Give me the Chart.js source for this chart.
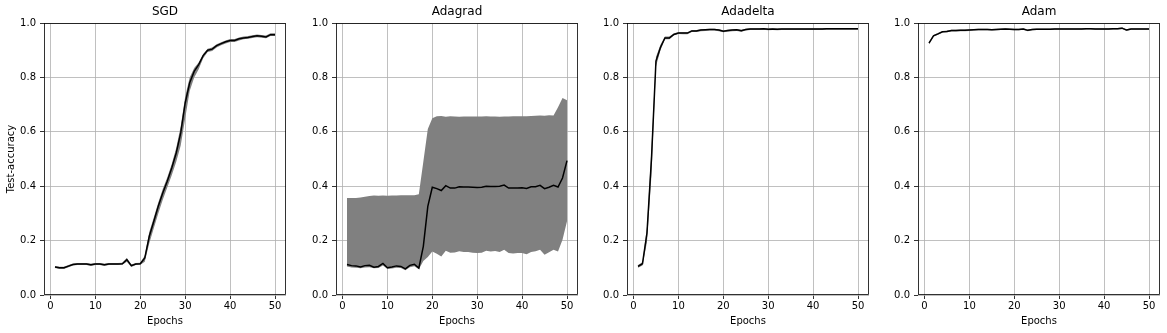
<!DOCTYPE html>
<html>
<head>
<meta charset="utf-8">
<script src="https://cdn.jsdelivr.net/npm/chart.js@4.4.1/dist/chart.umd.min.js"></script>
<style>
  body { margin: 0; background: #fff; }
  #wrap { position: relative; width: 1167px; height: 333px; background: #fff; }
  canvas { position: absolute; top: 0; }
</style>
</head>
<body>
<div id="wrap"></div>
<script>
const epochs = [1,2,3,4,5,6,7,8,9,10,11,12,13,14,15,16,17,18,19,20,21,22,23,24,25,
  26,27,28,29,30,31,32,33,34,35,36,37,38,39,40,41,42,43,44,45,46,47,48,49,50];
const xTicks = [0, 10, 20, 30, 40, 50];
const yTicks = [0, 0.2, 0.4, 0.6, 0.8, 1.0];
const titles = ['SGD', 'Adagrad', 'Adadelta', 'Adam'];

// SGD
const sgdMean = [0.103,0.100,0.100,0.106,0.112,0.114,0.114,0.114,0.111,0.114,0.114,0.111,0.114,0.114,0.114,0.115,
  0.130,0.108,0.114,0.115,0.136,0.216,0.270,0.326,0.375,0.418,0.467,0.522,0.596,0.706,0.780,0.822,0.847,0.880,
  0.900,0.904,0.917,0.924,0.931,0.936,0.936,0.942,0.945,0.947,0.950,0.953,0.951,0.949,0.957,0.957];
const sgdLower = [0.099,0.096,0.096,0.102,0.108,0.110,0.110,0.110,0.107,0.110,0.110,0.107,0.110,0.110,0.110,0.111,
  0.122,0.103,0.110,0.111,0.122,0.190,0.245,0.300,0.350,0.395,0.440,0.490,0.550,0.650,0.750,0.800,0.830,0.870,
  0.893,0.897,0.910,0.918,0.925,0.930,0.930,0.936,0.940,0.942,0.945,0.948,0.946,0.944,0.952,0.952];
const sgdUpper = [0.107,0.104,0.104,0.110,0.116,0.118,0.118,0.118,0.115,0.118,0.118,0.115,0.118,0.118,0.118,0.119,
  0.136,0.112,0.118,0.119,0.145,0.232,0.285,0.340,0.390,0.432,0.482,0.540,0.620,0.730,0.800,0.835,0.855,0.886,
  0.905,0.910,0.922,0.929,0.936,0.941,0.941,0.947,0.950,0.952,0.955,0.958,0.956,0.954,0.962,0.962];

// Adagrad
const adagradMean = [0.112,0.108,0.107,0.103,0.108,0.109,0.102,0.105,0.116,0.100,0.103,0.107,0.105,0.096,0.109,0.113,
  0.099,0.179,0.326,0.396,0.391,0.384,0.402,0.393,0.393,0.398,0.397,0.397,0.396,0.395,0.396,0.400,0.399,0.399,
  0.400,0.404,0.393,0.393,0.393,0.394,0.392,0.398,0.398,0.403,0.391,0.396,0.403,0.397,0.430,0.494];
const adagradLower = [0.105,0.101,0.100,0.098,0.101,0.102,0.098,0.099,0.108,0.096,0.097,0.100,0.099,0.091,0.102,0.106,
  0.095,0.125,0.140,0.160,0.152,0.142,0.163,0.155,0.156,0.161,0.158,0.158,0.155,0.154,0.155,0.163,0.160,0.162,
  0.158,0.166,0.154,0.153,0.154,0.154,0.150,0.158,0.161,0.166,0.148,0.157,0.166,0.160,0.203,0.271];
const adagradUpper = [0.357,0.357,0.357,0.358,0.361,0.364,0.366,0.365,0.366,0.365,0.366,0.366,0.367,0.367,0.367,0.367,
  0.370,0.490,0.610,0.650,0.657,0.658,0.655,0.657,0.656,0.655,0.656,0.656,0.656,0.656,0.656,0.657,0.656,0.656,
  0.655,0.656,0.656,0.657,0.657,0.657,0.657,0.658,0.659,0.660,0.659,0.661,0.660,0.690,0.724,0.716];

// Adadelta
const adadeltaMean = [0.105,0.115,0.228,0.500,0.860,0.910,0.945,0.945,0.958,0.963,0.963,0.963,0.971,0.971,0.974,0.975,
  0.976,0.976,0.974,0.970,0.972,0.974,0.975,0.972,0.976,0.978,0.978,0.978,0.979,0.977,0.978,0.977,0.978,0.978,
  0.978,0.978,0.978,0.978,0.978,0.978,0.978,0.978,0.979,0.979,0.979,0.979,0.979,0.979,0.979,0.979];
const adadeltaLower = [0.100,0.108,0.195,0.440,0.840,0.900,0.940,0.940,0.955,0.960,0.959,0.959,0.967,0.967,0.970,0.971,
  0.972,0.972,0.970,0.966,0.968,0.970,0.971,0.968,0.972,0.974,0.974,0.974,0.975,0.973,0.974,0.973,0.974,0.974,
  0.974,0.974,0.974,0.974,0.974,0.974,0.974,0.974,0.975,0.975,0.975,0.975,0.975,0.975,0.975,0.975];
const adadeltaUpper = [0.110,0.120,0.250,0.540,0.875,0.920,0.950,0.950,0.962,0.966,0.966,0.966,0.974,0.974,0.977,0.978,
  0.979,0.979,0.977,0.973,0.975,0.977,0.978,0.975,0.979,0.981,0.981,0.981,0.982,0.980,0.981,0.980,0.981,0.981,
  0.981,0.981,0.981,0.981,0.981,0.981,0.981,0.981,0.982,0.982,0.982,0.982,0.982,0.982,0.982,0.982];

// Adam
const adamMean = [0.926,0.953,0.960,0.968,0.969,0.972,0.972,0.973,0.973,0.974,0.975,0.976,0.976,0.976,0.975,0.976,
  0.977,0.978,0.977,0.976,0.976,0.978,0.973,0.976,0.977,0.977,0.977,0.977,0.978,0.978,0.978,0.978,0.978,0.978,
  0.978,0.979,0.979,0.978,0.978,0.978,0.978,0.979,0.979,0.981,0.974,0.978,0.978,0.978,0.978,0.978];
const adamLower = [0.922,0.950,0.957,0.965,0.966,0.969,0.969,0.970,0.970,0.971,0.972,0.973,0.973,0.973,0.972,0.973,
  0.974,0.975,0.974,0.973,0.973,0.975,0.970,0.973,0.974,0.974,0.974,0.974,0.975,0.975,0.975,0.975,0.975,0.975,
  0.975,0.976,0.976,0.975,0.975,0.975,0.975,0.976,0.976,0.978,0.971,0.975,0.975,0.975,0.975,0.975];
const adamUpper = [0.930,0.956,0.963,0.971,0.972,0.975,0.975,0.976,0.976,0.977,0.978,0.979,0.979,0.979,0.978,0.979,
  0.980,0.981,0.980,0.979,0.979,0.981,0.976,0.979,0.980,0.980,0.980,0.980,0.981,0.981,0.981,0.981,0.981,0.981,
  0.981,0.982,0.982,0.981,0.981,0.981,0.981,0.982,0.982,0.984,0.977,0.981,0.981,0.981,0.981,0.981];

const means = [sgdMean, adagradMean, adadeltaMean, adamMean];
const lowers = [sgdLower, adagradLower, adadeltaLower, adamLower];
const uppers = [sgdUpper, adagradUpper, adadeltaUpper, adamUpper];

// layout (pixels)
const panelLeft = [44, 336, 627, 918];
const plotW = 242;
const axisW = 44;
const padRight = 4;

Chart.defaults.font.family = "'DejaVu Sans', sans-serif";
Chart.defaults.font.size = 10;
Chart.defaults.color = '#000';

// matplotlib-like box around the axes
const frame = {
  id: 'frame',
  afterDraw(chart) {
    const { ctx, chartArea: a } = chart;
    ctx.save();
    ctx.strokeStyle = '#000';
    ctx.lineWidth = 0.8;
    const l = Math.round(a.left) + 0.5, t = Math.round(a.top) + 0.5;
    const r = Math.round(a.right) - 0.5, b = Math.round(a.bottom) - 0.5;
    ctx.strokeRect(l, t, r - l, b - t);
    ctx.restore();
  }
};

const toPts = arr => arr.map((v, i) => ({ x: epochs[i], y: v }));
const wrap = document.getElementById('wrap');

titles.forEach((name, i) => {
  const canvas = document.createElement('canvas');
  canvas.width = axisW + plotW + padRight;
  canvas.height = 333;
  canvas.style.left = (panelLeft[i] - axisW) + 'px';
  wrap.appendChild(canvas);

  new Chart(canvas.getContext('2d'), {
    type: 'line',
    data: {
      datasets: [
        { data: toPts(lowers[i]), borderWidth: 0, pointRadius: 0, fill: false, order: 2 },
        { data: toPts(uppers[i]), borderWidth: 0, pointRadius: 0, fill: '-1', backgroundColor: '#808080', order: 1 },
        { data: toPts(means[i]), borderColor: '#000', borderWidth: 1.5, pointRadius: 0, fill: false, order: 0 }
      ]
    },
    options: {
      responsive: false,
      animation: false,
      devicePixelRatio: 1,
      layout: { padding: { left: 0, right: padRight, top: 0, bottom: 0 } },
      elements: { line: { tension: 0 } },
      plugins: {
        legend: { display: false },
        tooltip: { enabled: false },
        title: {
          display: true,
          text: name,
          fullSize: false,
          font: { size: 12, weight: 'normal' },
          color: '#000',
          padding: { top: 5, bottom: 3.6 }
        }
      },
      scales: {
        x: {
          type: 'linear',
          min: -1.45,
          max: 52.45,
          afterBuildTicks: s => { s.ticks = xTicks.map(v => ({ value: v })); },
          afterFit: s => { s.height = 38; },
          border: { display: false },
          grid: { color: '#b0b0b0', lineWidth: 0.8, tickColor: '#000', tickLength: 4, tickWidth: 0.8 },
          ticks: { padding: 1, maxRotation: 0, autoSkip: false },
          title: { display: true, text: 'Epochs', padding: { top: 0, bottom: 6 } }
        },
        y: {
          min: 0,
          max: 1,
          afterBuildTicks: s => { s.ticks = yTicks.map(v => ({ value: v })); },
          afterFit: s => { s.width = axisW; },
          border: { display: false },
          grid: { color: '#b0b0b0', lineWidth: 0.8, tickColor: '#000', tickLength: 4, tickWidth: 0.8 },
          ticks: { padding: 4, callback: v => v.toFixed(1) },
          title: { display: i === 0, text: 'Test-accuracy', padding: { top: 5.5, bottom: 0 } }
        }
      }
    },
    plugins: [frame]
  });
});
</script>
</body>
</html>
